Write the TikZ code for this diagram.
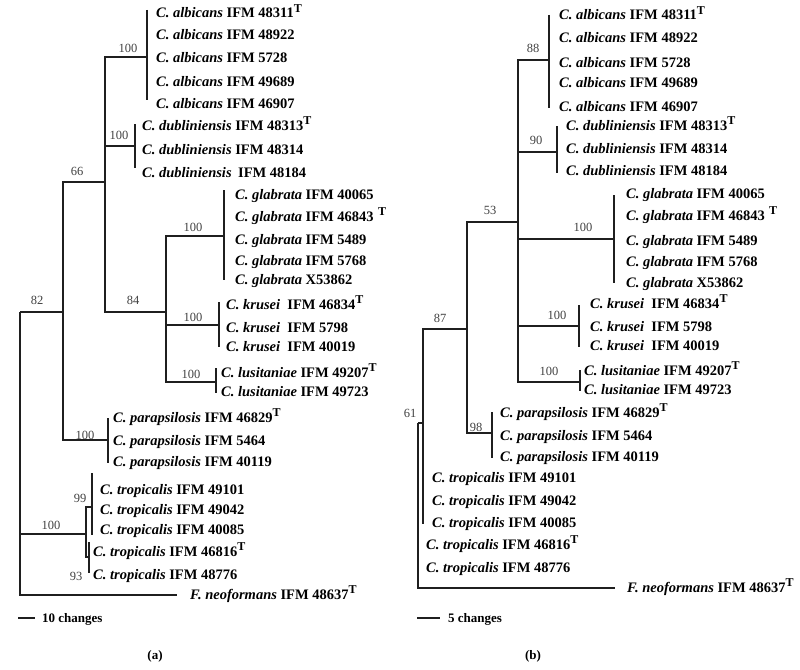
\documentclass[tikz,border=0pt]{standalone}
\usepackage{fontspec}
\setmainfont{Liberation Serif}
\newcommand{\tx}[2]{\textbf{\textit{#1}} \textbf{#2}}
\newcommand{\typeT}{\raisebox{5.8pt}{\fontsize{12}{12}\selectfont\bfseries T}}
\begin{document}
\begin{tikzpicture}[x=1pt,y=-1pt,
  branch/.style={draw=black!88, line width=1.5pt},
  leaf/.style={anchor=base west, inner sep=0pt, yshift=-5pt, font=\fontsize{14.5}{16}\selectfont},
  boot/.style={anchor=center, inner sep=0pt, font=\fontsize{12.5}{14}\selectfont, text=black!75},
  caption/.style={anchor=base west, inner sep=0pt, yshift=-4.5pt, font=\fontsize{13}{15}\selectfont\bfseries}]
\useasboundingbox (0,0) rectangle (800,669);

% ================= tree (a) =================
\coordinate (aR) at (20,312);
\coordinate (a82) at (63,312);
\coordinate (a66) at (105,182);
\coordinate (aAlb) at (147,57);
\coordinate (aDub) at (135,146);
\coordinate (a84) at (166,312);
\coordinate (aGla) at (224,236);
\coordinate (aKru) at (219,325);
\coordinate (aLus) at (216,382);
\coordinate (aPar) at (108,440);
\coordinate (aTro) at (86,534);
\coordinate (a99) at (92,507);
\coordinate (a93) at (89,557);
\coordinate (aFneo) at (177,595);
% bar ends
\coordinate (aAlbT) at (147,10);  \coordinate (aAlbB) at (147,100);
\coordinate (aDubT) at (135,124); \coordinate (aDubB) at (135,168);
\coordinate (aGlaT) at (224,190); \coordinate (aGlaB) at (224,280);
\coordinate (aKruT) at (219,302); \coordinate (aKruB) at (219,347);
\coordinate (aLusT) at (216,368); \coordinate (aLusB) at (216,393);
\coordinate (aParT) at (108,418); \coordinate (aParB) at (108,463);
\coordinate (a99T) at (92,473);   \coordinate (a99B) at (92,535);
\coordinate (a93T) at (89,542);   \coordinate (a93B) at (89,573);

\draw[branch] (aR) |- (a82);
\draw[branch] (aR) |- (aTro);
\draw[branch] (aR) |- (aFneo);
\draw[branch] (a82) |- (a66);
\draw[branch] (a82) |- (aPar);
\draw[branch] (a66) |- (aAlb);
\draw[branch] (a66) |- (aDub);
\draw[branch] (a66) |- (a84);
\draw[branch] (a84) |- (aGla);
\draw[branch] (a84) |- (aKru);
\draw[branch] (a84) |- (aLus);
\draw[branch] (aTro) |- (a99);
\draw[branch] (aTro) |- (a93);
\foreach \c in {aAlb,aDub,aGla,aKru,aLus,aPar,a99,a93}
  \draw[branch] (\c T) -- (\c B);

% leaves (a)
\node[leaf] (aL1) at (156,13) {\tx{C. albicans}{IFM 48311}\typeT};
\node[leaf] (aL2) at (156,35) {\tx{C. albicans}{IFM 48922}};
\node[leaf] (aL3) at (156,58) {\tx{C. albicans}{IFM 5728}};
\node[leaf] (aL4) at (156,81) {\tx{C. albicans}{IFM 49689}};
\node[leaf] (aL5) at (156,103) {\tx{C. albicans}{IFM 46907}};
\node[leaf] (aL6) at (142,125) {\tx{C. dubliniensis}{IFM 48313}\typeT};
\node[leaf] (aL7) at (142,149) {\tx{C. dubliniensis}{IFM 48314}};
\node[leaf] (aL8) at (142,172) {\tx{C. dubliniensis}{\hspace{0.2em}IFM 48184}};
\node[leaf] (aL9) at (235,194) {\tx{C. glabrata}{IFM 40065}};
\node[leaf] (aL10) at (235,216) {\tx{C. glabrata}{IFM 46843}\hspace{0.3em}\typeT};
\node[leaf] (aL11) at (235,239) {\tx{C. glabrata}{IFM 5489}};
\node[leaf] (aL12) at (235,260) {\tx{C. glabrata}{IFM 5768}};
\node[leaf] (aL13) at (235,279) {\tx{C. glabrata}{X53862}};
\node[leaf] (aL14) at (226,304) {\tx{C. krusei}{\hspace{0.25em}IFM 46834}\typeT};
\node[leaf] (aL15) at (226,327) {\tx{C. krusei}{\hspace{0.25em}IFM 5798}};
\node[leaf] (aL16) at (226,346) {\tx{C. krusei}{\hspace{0.25em}IFM 40019}};
\node[leaf] (aL17) at (221,372) {\tx{C. lusitaniae}{IFM 49207}\typeT};
\node[leaf] (aL18) at (221,391) {\tx{C. lusitaniae}{IFM 49723}};
\node[leaf] (aL19) at (113,417) {\tx{C. parapsilosis}{IFM 46829}\typeT};
\node[leaf] (aL20) at (113,440) {\tx{C. parapsilosis}{IFM 5464}};
\node[leaf] (aL21) at (113,461) {\tx{C. parapsilosis}{IFM 40119}};
\node[leaf] (aL22) at (100,489) {\tx{C. tropicalis}{IFM 49101}};
\node[leaf] (aL23) at (100,509) {\tx{C. tropicalis}{IFM 49042}};
\node[leaf] (aL24) at (100,529) {\tx{C. tropicalis}{IFM 40085}};
\node[leaf] (aL25) at (93,551) {\tx{C. tropicalis}{IFM 46816}\typeT};
\node[leaf] (aL26) at (93,574) {\tx{C. tropicalis}{IFM 48776}};
\node[leaf] (aL27) at (190,594) {\tx{F. neoformans}{IFM 48637}\typeT};

% bootstrap (a)
\node[boot] (aB1) at (128,48) {100};
\node[boot] (aB2) at (119,135) {100};
\node[boot] (aB3) at (77,171) {66};
\node[boot] (aB4) at (193,227) {100};
\node[boot] (aB5) at (133,300) {84};
\node[boot] (aB6) at (37,300) {82};
\node[boot] (aB7) at (193,317) {100};
\node[boot] (aB8) at (191,374) {100};
\node[boot] (aB9) at (85,435) {100};
\node[boot] (aB10) at (80,498) {99};
\node[boot] (aB11) at (51,525) {100};
\node[boot] (aB12) at (76,576) {93};

% scale (a)
\coordinate (aS1) at (18,618);
\coordinate (aS2) at (35,618);
\draw[branch] (aS1) -- (aS2);
\node[caption] (aScale) at (42,618) {10 changes};
\node[caption, anchor=base] (aCap) at (155,655) {(a)};

% ================= tree (b) =================
\coordinate (bR) at (418,423);
\coordinate (b61) at (423,423);
\coordinate (b87) at (467,329);
\coordinate (b53) at (518,222);
\coordinate (b88) at (549,60);
\coordinate (b90) at (557,152);
\coordinate (bGla) at (614,239);
\coordinate (bKru) at (579,326);
\coordinate (bLus) at (580,382);
\coordinate (b98) at (492,433);
\coordinate (bFneo) at (615,588);
\coordinate (b61B) at (423,524);
\coordinate (b88T) at (549,15);   \coordinate (b88B) at (549,108);
\coordinate (b90T) at (557,126);  \coordinate (b90B) at (557,173);
\coordinate (bGlaT) at (614,195); \coordinate (bGlaB) at (614,283);
\coordinate (bKruT) at (579,305); \coordinate (bKruB) at (579,347);
\coordinate (bLusT) at (580,370); \coordinate (bLusB) at (580,391);
\coordinate (b98T) at (492,412);  \coordinate (b98B) at (492,458);

\draw[branch] (bR) -- (b61);
\draw[branch] (bR) |- (bFneo);
\draw[branch] (b61) |- (b87);
\draw[branch] (b61) -- (b61B);
\draw[branch] (b87) |- (b53);
\draw[branch] (b87) |- (b98);
\draw[branch] (b53) |- (b88);
\draw[branch] (b53) |- (b90);
\draw[branch] (b53) |- (bGla);
\draw[branch] (b53) |- (bKru);
\draw[branch] (b53) |- (bLus);
\foreach \c in {b88,b90,bGla,bKru,bLus,b98}
  \draw[branch] (\c T) -- (\c B);

% leaves (b)
\node[leaf] (bL1) at (559,15) {\tx{C. albicans}{IFM 48311}\typeT};
\node[leaf] (bL2) at (559,38) {\tx{C. albicans}{IFM 48922}};
\node[leaf] (bL3) at (559,62) {\tx{C. albicans}{IFM 5728}};
\node[leaf] (bL4) at (559,83) {\tx{C. albicans}{IFM 49689}};
\node[leaf] (bL5) at (559,106) {\tx{C. albicans}{IFM 46907}};
\node[leaf] (bL6) at (566,125) {\tx{C. dubliniensis}{IFM 48313}\typeT};
\node[leaf] (bL7) at (566,148) {\tx{C. dubliniensis}{IFM 48314}};
\node[leaf] (bL8) at (566,170) {\tx{C. dubliniensis}{IFM 48184}};
\node[leaf] (bL9) at (626,193) {\tx{C. glabrata}{IFM 40065}};
\node[leaf] (bL10) at (626,215) {\tx{C. glabrata}{IFM 46843}\hspace{0.3em}\typeT};
\node[leaf] (bL11) at (626,240) {\tx{C. glabrata}{IFM 5489}};
\node[leaf] (bL12) at (626,261) {\tx{C. glabrata}{IFM 5768}};
\node[leaf] (bL13) at (626,282) {\tx{C. glabrata}{X53862}};
\node[leaf] (bL14) at (590,303) {\tx{C. krusei}{\hspace{0.25em}IFM 46834}\typeT};
\node[leaf] (bL15) at (590,326) {\tx{C. krusei}{\hspace{0.25em}IFM 5798}};
\node[leaf] (bL16) at (590,345) {\tx{C. krusei}{\hspace{0.25em}IFM 40019}};
\node[leaf] (bL17) at (584,370) {\tx{C. lusitaniae}{IFM 49207}\typeT};
\node[leaf] (bL18) at (584,389) {\tx{C. lusitaniae}{IFM 49723}};
\node[leaf] (bL19) at (500,412) {\tx{C. parapsilosis}{IFM 46829}\typeT};
\node[leaf] (bL20) at (500,435) {\tx{C. parapsilosis}{IFM 5464}};
\node[leaf] (bL21) at (500,456) {\tx{C. parapsilosis}{IFM 40119}};
\node[leaf] (bL22) at (432,477) {\tx{C. tropicalis}{IFM 49101}};
\node[leaf] (bL23) at (432,500) {\tx{C. tropicalis}{IFM 49042}};
\node[leaf] (bL24) at (432,522) {\tx{C. tropicalis}{IFM 40085}};
\node[leaf] (bL25) at (426,544) {\tx{C. tropicalis}{IFM 46816}\typeT};
\node[leaf] (bL26) at (426,567) {\tx{C. tropicalis}{IFM 48776}};
\node[leaf] (bL27) at (627,587) {\tx{F. neoformans}{IFM 48637}\typeT};

% bootstrap (b)
\node[boot] (bB1) at (533,48) {88};
\node[boot] (bB2) at (536,140) {90};
\node[boot] (bB3) at (490,210) {53};
\node[boot] (bB4) at (583,227) {100};
\node[boot] (bB5) at (557,315) {100};
\node[boot] (bB6) at (549,371) {100};
\node[boot] (bB7) at (440,318) {87};
\node[boot] (bB8) at (476,427) {98};
\node[boot] (bB9) at (410,413) {61};

% scale (b)
\coordinate (bS1) at (417,618);
\coordinate (bS2) at (440,618);
\draw[branch] (bS1) -- (bS2);
\node[caption] (bScale) at (448,618) {5 changes};
\node[caption, anchor=base] (bCap) at (533,655) {(b)};
\end{tikzpicture}
\end{document}
